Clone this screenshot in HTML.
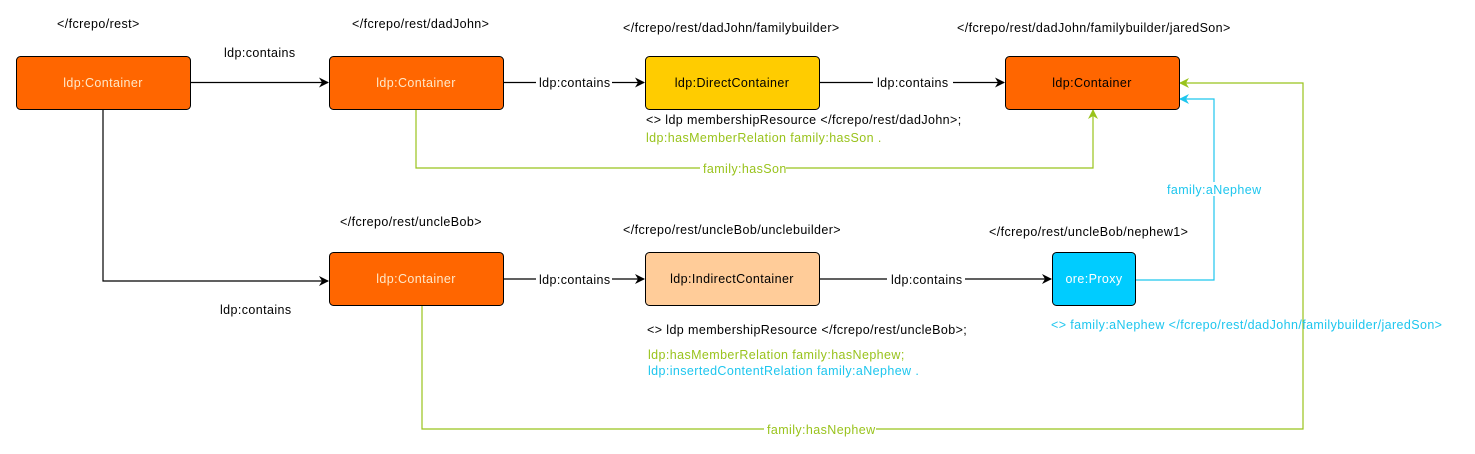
<!DOCTYPE html>
<html><head><meta charset="utf-8"><style>
html,body{margin:0;padding:0;background:#fff;}
svg{display:block;font-family:"Liberation Sans",sans-serif;font-size:12.5px;letter-spacing:0.4px;}
</style></head><body>
<svg width="1475" height="454" viewBox="0 0 1475 454" xmlns="http://www.w3.org/2000/svg">
<defs>
<marker id="ab" markerWidth="10" markerHeight="10" refX="9" refY="5" orient="auto" markerUnits="userSpaceOnUse"><path d="M0,0 L10,5 L0,10 L3,5 z" fill="#000"/></marker>
<marker id="ag" markerWidth="10" markerHeight="10" refX="9" refY="5" orient="auto" markerUnits="userSpaceOnUse"><path d="M0,0 L10,5 L0,10 L3,5 z" fill="#99c31c"/></marker>
<marker id="ac" markerWidth="10" markerHeight="10" refX="9" refY="5" orient="auto" markerUnits="userSpaceOnUse"><path d="M0,0 L10,5 L0,10 L3,5 z" fill="#1ec6ee"/></marker>
</defs>
<g fill="none" stroke-width="1.2">
<path d="M190,82.5 H328" stroke="#000" marker-end="url(#ab)"/>
<path d="M503,82.5 H644" stroke="#000" marker-end="url(#ab)"/>
<path d="M819,82.5 H1004" stroke="#000" marker-end="url(#ab)"/>
<path d="M103,109 V281 H328" stroke="#000" marker-end="url(#ab)"/>
<path d="M503,279 H644" stroke="#000" marker-end="url(#ab)"/>
<path d="M819,279 H1051" stroke="#000" marker-end="url(#ab)"/>
<path d="M416,109 V168 H1093 V110" stroke="#99c31c" marker-end="url(#ag)"/>
<path d="M422,305 V429 H1303 V83 H1180" stroke="#99c31c" marker-end="url(#ag)"/>
<path d="M1135,280 H1214 V99 H1180" stroke="#1ec6ee" marker-end="url(#ac)"/>
</g>
<g stroke="#000" stroke-width="1">
<rect x="16.5" y="56.5" width="174" height="53" rx="4" fill="#ff6600"/>
<rect x="329.5" y="56.5" width="174" height="53" rx="4" fill="#ff6600"/>
<rect x="645.5" y="56.5" width="174" height="53" rx="4" fill="#ffcc00"/>
<rect x="1005.5" y="56.5" width="174" height="53" rx="4" fill="#ff6600"/>
<rect x="329.5" y="252.5" width="174" height="53" rx="4" fill="#ff6600"/>
<rect x="645.5" y="252.5" width="174" height="53" rx="4" fill="#ffcc99"/>
<rect x="1052.5" y="252.5" width="83" height="53" rx="4" fill="#00ccff"/>
</g>
<g text-anchor="middle">
<text x="103" y="87" fill="#ffe8c8">ldp:Container</text>
<text x="416" y="87" fill="#ffe8c8">ldp:Container</text>
<text x="732" y="87" fill="#000">ldp:DirectContainer</text>
<text x="1092" y="87" fill="#000">ldp:Container</text>
<text x="416" y="283" fill="#ffe8c8">ldp:Container</text>
<text x="732" y="283" fill="#000">ldp:IndirectContainer</text>
<text x="1094" y="283" fill="#fff">ore:Proxy</text>
</g>
<g fill="#000">
<text x="57" y="28">&lt;/fcrepo/rest&gt;</text>
<text x="352" y="28">&lt;/fcrepo/rest/dadJohn&gt;</text>
<text x="623" y="32">&lt;/fcrepo/rest/dadJohn/familybuilder&gt;</text>
<text x="957" y="32">&lt;/fcrepo/rest/dadJohn/familybuilder/jaredSon&gt;</text>
<text x="224" y="57">ldp:contains</text>
<text x="340" y="226">&lt;/fcrepo/rest/uncleBob&gt;</text>
<text x="623" y="234">&lt;/fcrepo/rest/uncleBob/unclebuilder&gt;</text>
<text x="989" y="236">&lt;/fcrepo/rest/uncleBob/nephew1&gt;</text>
<text x="220" y="314">ldp:contains</text>
<text x="646" y="124">&lt;&gt; ldp membershipResource &lt;/fcrepo/rest/dadJohn&gt;;</text>
<text x="647" y="334">&lt;&gt; ldp membershipResource &lt;/fcrepo/rest/uncleBob&gt;;</text>
</g>
<g>
<rect x="536" y="75" width="76" height="14" fill="#fff"/>
<text x="539" y="87">ldp:contains</text>
<rect x="873" y="75" width="80" height="14" fill="#fff"/>
<text x="877" y="87">ldp:contains</text>
<rect x="536" y="272" width="76" height="14" fill="#fff"/>
<text x="539" y="284">ldp:contains</text>
<rect x="887" y="272" width="78" height="14" fill="#fff"/>
<text x="891" y="284">ldp:contains</text>
<rect x="700" y="161" width="86" height="14" fill="#fff"/>
<text x="703" y="173" fill="#99c31c">family:hasSon</text>
<rect x="764" y="422" width="112" height="14" fill="#fff"/>
<text x="767" y="434" fill="#99c31c">family:hasNephew</text>
<rect x="1165" y="182" width="98" height="14" fill="#fff"/>
<text x="1167" y="194" fill="#1ec6ee">family:aNephew</text>
</g>
<text x="646" y="142" fill="#99c31c">ldp:hasMemberRelation family:hasSon .</text>
<text x="648" y="359" fill="#99c31c">ldp:hasMemberRelation family:hasNephew;</text>
<text x="648" y="375" fill="#1ec6ee">ldp:insertedContentRelation family:aNephew .</text>
<text x="1051" y="329" fill="#1ec6ee">&lt;&gt; family:aNephew &lt;/fcrepo/rest/dadJohn/familybuilder/jaredSon&gt;</text>
</svg>
</body></html>
